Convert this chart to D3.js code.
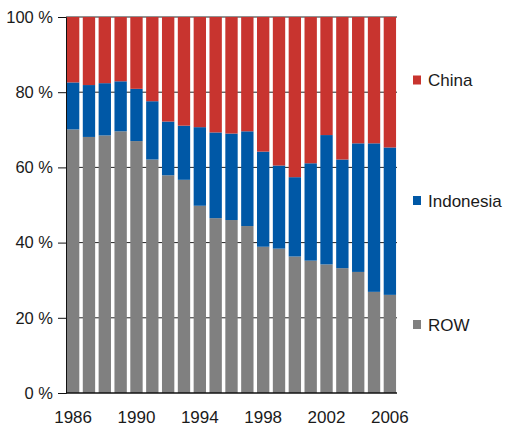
<!DOCTYPE html>
<html>
<head>
<meta charset="utf-8">
<script src="https://cdn.jsdelivr.net/npm/d3@7/dist/d3.min.js"></script>
<style>
  body { margin: 0; background: #fff; }
  text { font-family: "Liberation Sans", Arial, sans-serif; fill: #1a1a1a; }
</style>
</head>
<body>
<svg id="mysvg" width="506" height="429"></svg>
<script>
var years = [1986, 1987, 1988, 1989, 1990, 1991, 1992, 1993, 1994, 1995, 1996,
             1997, 1998, 1999, 2000, 2001, 2002, 2003, 2004, 2005, 2006];
var row       = [70.1, 68.1, 68.5, 69.6, 67.0, 62.1, 57.9, 56.7, 49.8, 46.5, 46.0,
                 44.4, 38.9, 38.4, 36.3, 35.2, 34.2, 33.2, 32.2, 26.9, 26.1];
var indonesia = [12.5, 13.8, 13.9, 13.3, 13.9, 15.5, 14.3, 14.4, 20.9, 22.8, 23.0,
                 25.2, 25.3, 22.1, 21.1, 25.9, 34.4, 28.9, 34.2, 39.5, 39.2];
var china     = [17.4, 18.1, 17.6, 17.1, 19.1, 22.4, 27.8, 28.9, 29.3, 30.7, 31.0,
                 30.4, 35.8, 39.5, 42.6, 38.9, 31.4, 37.9, 33.6, 33.6, 34.7];
var yTicks = [0, 20, 40, 60, 80, 100];
var xLabels = [1986, 1990, 1994, 1998, 2002, 2006];

var keys = ["ROW", "Indonesia", "China"];
var colors = { "ROW": "#808080", "Indonesia": "#0058a6", "China": "#c8342f" };

var table = years.map(function (yr, i) {
	return { year: yr, ROW: row[i], Indonesia: indonesia[i], China: china[i] };
});

var svg = d3.select("#mysvg");

var x = d3.scaleBand().domain(years).range([66, 397]).paddingInner(0.22).paddingOuter(0.06);
var y = d3.scaleLinear().domain([0, 100]).range([393, 17]);

// grid lines, only visible in the gaps between bars
svg.append("g").selectAll("line")
	.data(yTicks.slice(1))
	.enter().append("line")
	.attr("x1", 66).attr("x2", 397)
	.attr("y1", function (d) { return y(d); })
	.attr("y2", function (d) { return y(d); })
	.attr("stroke", "#222")
	.attr("stroke-width", 1);

var series = d3.stack().keys(keys)(table);

var groups = svg.append("g").selectAll("g")
	.data(series)
	.enter().append("g")
	.attr("fill", function (d) { return colors[d.key]; });

groups.selectAll("rect")
	.data(function (d) { return d; })
	.enter().append("rect")
	.attr("x", function (d) { return x(d.data.year); })
	.attr("y", function (d) { return y(d[1]); })
	.attr("width", x.bandwidth())
	.attr("height", function (d) { return y(d[0]) - y(d[1]); });

// y axis
var yAxis = svg.append("g")
	.attr("transform", "translate(66,0)")
	.call(d3.axisLeft(y).tickValues(yTicks).tickSize(8).tickPadding(5)
		.tickFormat(function (d) { return d + " %"; }));
yAxis.select(".domain").attr("stroke", "#111");
yAxis.selectAll(".tick line").attr("stroke", "#111");
yAxis.selectAll("text").attr("font-size", "16.5px").attr("fill", "#1a1a1a")
	.style("font-family", "'Liberation Sans', Arial, sans-serif");

// x axis
svg.append("line")
	.attr("x1", 66).attr("x2", 397)
	.attr("y1", 393).attr("y2", 393)
	.attr("stroke", "#111").attr("stroke-width", 1.5);

svg.append("g").selectAll("text")
	.data(xLabels)
	.enter().append("text")
	.attr("x", function (d) { return x(d) + x.bandwidth() / 2; })
	.attr("y", 423)
	.attr("text-anchor", "middle")
	.attr("font-size", "17px")
	.text(function (d) { return d; });

// legend
var legendItems = [
	{ key: "China", cy: 80 },
	{ key: "Indonesia", cy: 200.5 },
	{ key: "ROW", cy: 324.5 }
];
var legend = svg.append("g").selectAll("g")
	.data(legendItems)
	.enter().append("g");
legend.append("rect")
	.attr("x", 413).attr("y", function (d) { return d.cy - 4.5; })
	.attr("width", 8).attr("height", 9)
	.attr("fill", function (d) { return colors[d.key]; });
legend.append("text")
	.attr("x", 428).attr("y", function (d) { return d.cy + 6; })
	.attr("font-size", "17px")
	.text(function (d) { return d.key; });
</script>
</body>
</html>
